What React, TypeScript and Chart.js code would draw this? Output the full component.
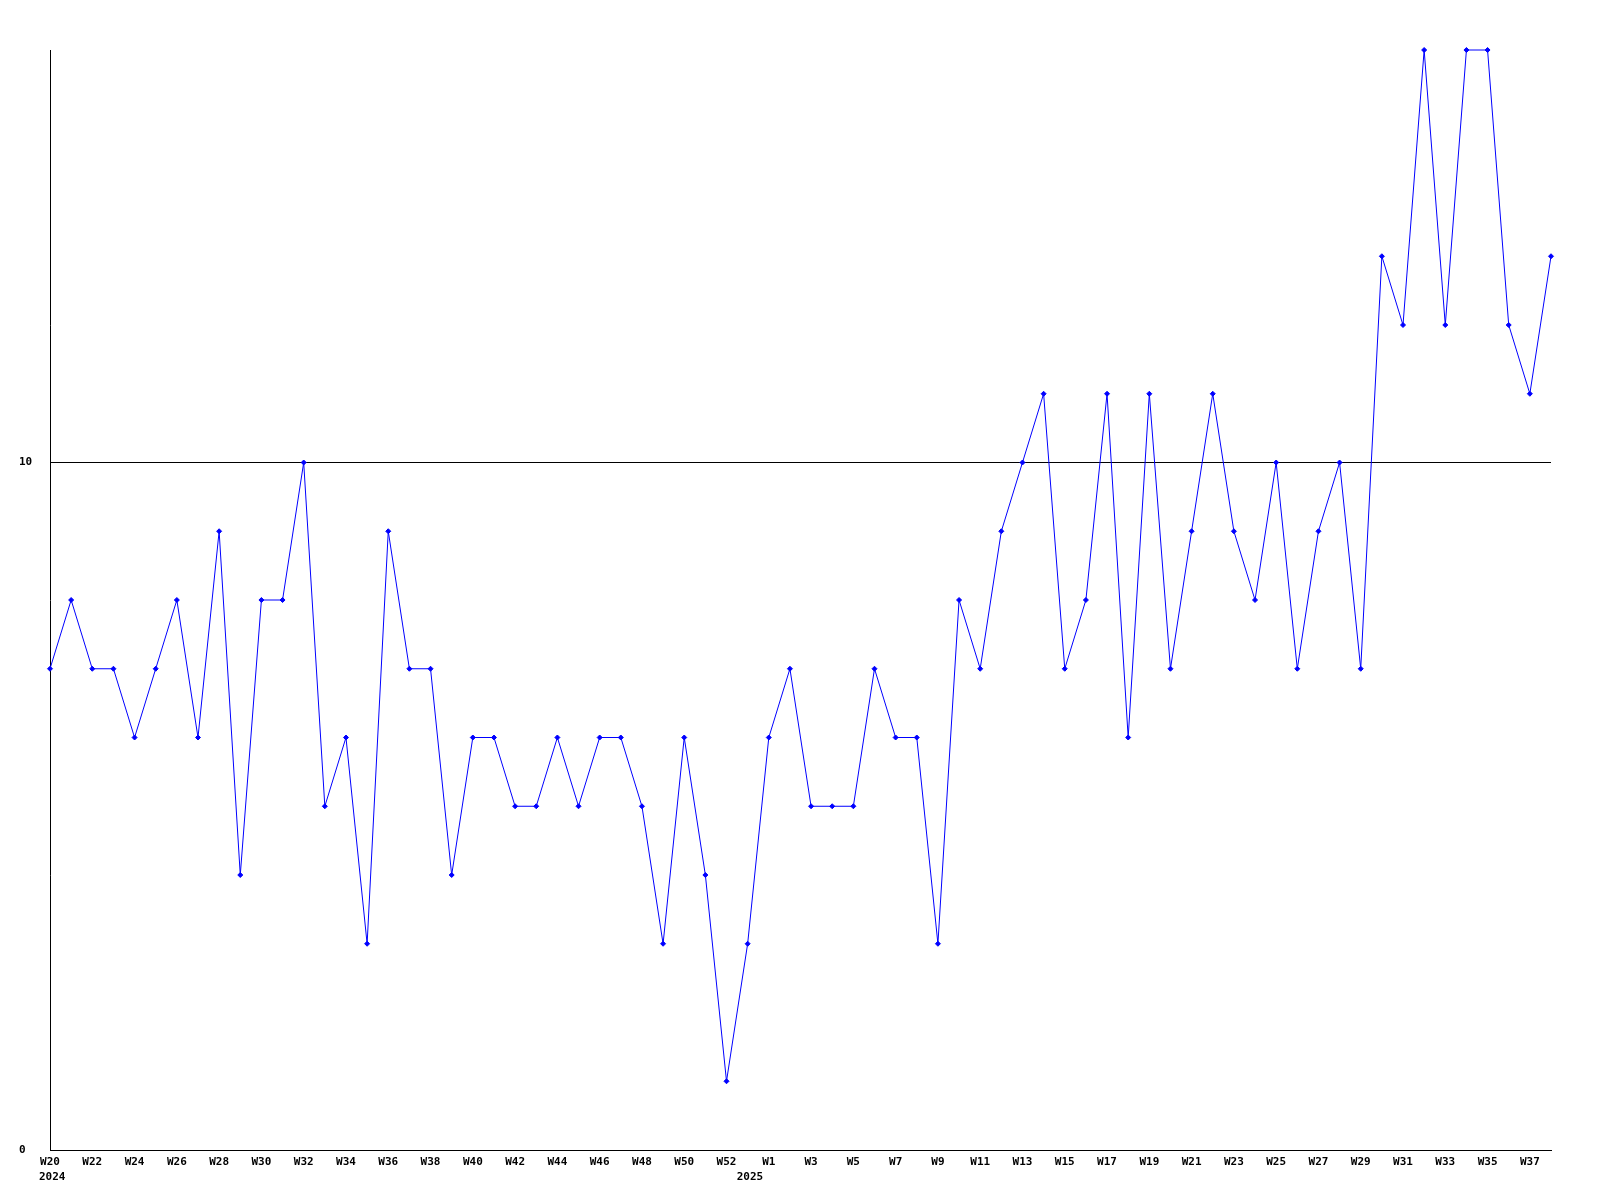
import React, { useEffect, useRef } from "react";
import { Chart, registerables } from "chart.js";

Chart.register(...registerables);

const weeks: string[] = [
  "W20", "W21", "W22", "W23", "W24", "W25", "W26", "W27", "W28", "W29",
  "W30", "W31", "W32", "W33", "W34", "W35", "W36", "W37", "W38", "W39",
  "W40", "W41", "W42", "W43", "W44", "W45", "W46", "W47", "W48", "W49",
  "W50", "W51", "W52", "W53",
  "W1", "W2", "W3", "W4", "W5", "W6", "W7", "W8", "W9", "W10",
  "W11", "W12", "W13", "W14", "W15", "W16", "W17", "W18", "W19", "W20",
  "W21", "W22", "W23", "W24", "W25", "W26", "W27", "W28", "W29", "W30",
  "W31", "W32", "W33", "W34", "W35", "W36", "W37", "W38",
];

const values: number[] = [
  7, 8, 7, 7, 6, 7, 8, 6, 9, 4,
  8, 8, 10, 5, 6, 3, 9, 7, 7, 4,
  6, 6, 5, 5, 6, 5, 6, 6, 5, 3,
  6, 4, 1, 3,
  6, 7, 5, 5, 5, 7, 6, 6, 3, 8,
  7, 9, 10, 11, 7, 8, 11, 6, 11, 7,
  9, 11, 9, 8, 10, 7, 9, 10, 7, 13,
  12, 16, 12, 16, 16, 12, 11, 13,
];

const yTicks: number[] = [0, 10];
const yMax = 16;

// year captions, anchored at the category index where each year starts
const yearLabels: string[] = ["2024", "2025"];
const yearStartIndex: number[] = [0, 33];

const FONT = "bold 11px 'DejaVu Sans Mono', monospace";

export default function App() {
  const ref = useRef<HTMLCanvasElement | null>(null);

  useEffect(() => {
    if (!ref.current) return;
    const yearPlugin = {
      id: "yearPlugin",
      afterDraw(chart: any) {
        const ctx = chart.ctx;
        const xs = chart.scales.x;
        ctx.save();
        ctx.font = FONT;
        ctx.fillStyle = "#000";
        ctx.textAlign = "left";
        ctx.textBaseline = "middle";
        yearLabels.forEach((y, i) => {
          const px = xs.getPixelForValue(yearStartIndex[i]);
          ctx.fillText(y, px - 11, 1177);
        });
        ctx.restore();
      },
    };
    const chart = new Chart(ref.current, {
      type: "line",
      data: {
        labels: weeks,
        datasets: [
          {
            data: values,
            borderColor: "#0000ff",
            backgroundColor: "#0000ff",
            borderWidth: 1,
            pointStyle: "rectRot",
            pointRadius: 2.5,
            pointBorderWidth: 1,
            pointHoverRadius: 2.5,
            tension: 0,
            fill: false,
            clip: false,
          },
        ],
      },
      options: {
        animation: false,
        responsive: false,
        maintainAspectRatio: false,
        devicePixelRatio: 1,
        layout: { padding: { left: 19, right: 49, top: 50, bottom: 0 } },
        plugins: {
          legend: { display: false },
          tooltip: { enabled: false },
        },
        scales: {
          x: {
            type: "category",
            offset: false,
            grid: { display: false, drawTicks: false },
            border: { display: true, color: "#000", width: 1 },
            afterFit: (s: any) => {
              s.height = 50;
            },
            ticks: {
              autoSkip: false,
              maxRotation: 0,
              minRotation: 0,
              padding: 6,
              color: "#000",
              font: { family: "'DejaVu Sans Mono', monospace", size: 11, weight: "bold" },
              callback: (_v: any, i: number) => (i % 2 === 0 ? weeks[i] : ""),
            },
          },
          y: {
            min: 0,
            max: yMax,
            afterBuildTicks: (s: any) => {
              s.ticks = yTicks.map((v) => ({ value: v }));
            },
            afterFit: (s: any) => {
              s.width = 31;
            },
            grid: { display: true, color: "#000", lineWidth: 1, drawTicks: false },
            border: { display: true, color: "#000", width: 1 },
            ticks: {
              crossAlign: "far",
              padding: 0,
              color: "#000",
              font: { family: "'DejaVu Sans Mono', monospace", size: 11, weight: "bold" },
            },
          },
        },
      },
      plugins: [yearPlugin],
    });
    return () => chart.destroy();
  }, []);

  return (
    <div style={{ position: "absolute", left: 0, top: 0, width: 1600, height: 1200, background: "#fff" }}>
      <canvas ref={ref} width={1600} height={1200} style={{ width: 1600, height: 1200 }} />
    </div>
  );
}
